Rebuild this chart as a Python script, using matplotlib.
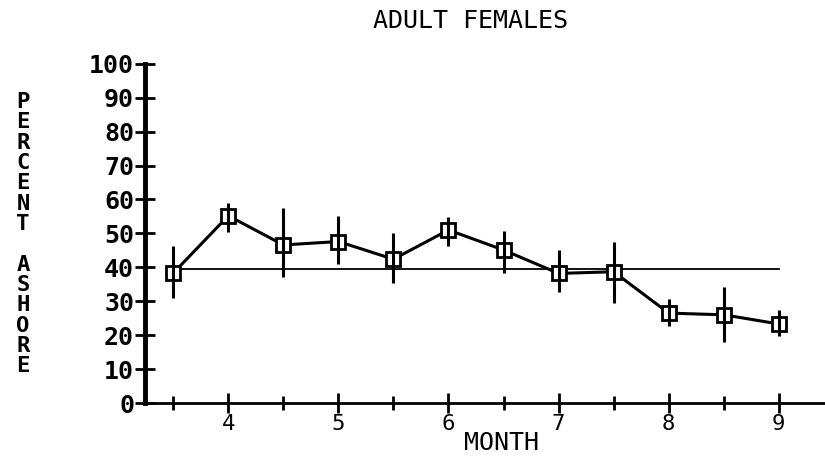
import matplotlib
matplotlib.use("Agg")
import matplotlib.pyplot as plt

# percent ashore by month, adult females
months = [3.5, 4, 4.5, 5, 5.5, 6, 6.5, 7, 7.5, 8, 8.5, 9]
percent = [38.3, 55.2, 46.6, 47.6, 42.4, 51.0, 45.1, 38.2, 38.7, 26.5, 26.0, 23.3]
err_hi = [46.3, 59.0, 57.5, 55.0, 50.0, 54.7, 50.8, 45.1, 47.6, 30.8, 34.1, 27.4]
err_lo = [31.0, 50.4, 37.2, 41.0, 35.4, 46.3, 38.4, 32.8, 29.6, 22.7, 17.9, 19.8]
mean_level = 39.5
xticks = [4, 5, 6, 7, 8, 9]
yticks = list(range(0, 101, 10))

font = "DejaVu Sans Mono"

fig = plt.figure(figsize=(8.25, 4.59), dpi=100)
ax = fig.add_axes([0.176, 0.122, 0.824, 0.739])

lower = [p - lo for p, lo in zip(percent, err_lo)]
upper = [hi - p for p, hi in zip(percent, err_hi)]
ax.plot(months, percent, color="black", lw=2.2, marker="s", ms=10,
        mfc="white", mec="black", mew=2, zorder=2)
ax.errorbar(months, percent, yerr=[lower, upper], fmt="none", ecolor="black",
            elinewidth=2.2, capsize=0, zorder=3)
ax.plot([months[0], months[-1]], [mean_level, mean_level], color="black", lw=1.3, zorder=1)

ax.set_xlim(3.245, 9.42)
ax.set_ylim(0, 100)
for s in ["top", "right"]:
    ax.spines[s].set_visible(False)
ax.spines["left"].set_linewidth(3.5)
ax.spines["bottom"].set_linewidth(2)

ax.set_xticks(months, minor=True)
ax.set_xticks(xticks)
ax.set_xticklabels([str(t) for t in xticks], fontfamily=font, fontsize=16)
ax.tick_params(axis="x", which="major", direction="inout", length=14, width=2, pad=1)
ax.tick_params(axis="x", which="minor", direction="inout", length=10, width=2)
ax.set_yticks(yticks)
ax.set_yticklabels([str(t) for t in yticks], fontfamily=font, fontsize=18, fontweight="bold")
ax.tick_params(axis="y", direction="inout", length=14, width=2, pad=1)

fig.text(0.57, 0.955, "ADULT FEMALES", ha="center", va="center", fontfamily=font, fontsize=18)
fig.text(0.608, 0.035, "MONTH", ha="center", va="center", fontfamily=font, fontsize=18)
fig.text(0.028, 0.49, "\n".join("PERCENT ASHORE"), ha="center", va="center",
         fontfamily=font, fontsize=16, fontweight="bold", linespacing=1.02)

fig.savefig("out.png", dpi=100)
